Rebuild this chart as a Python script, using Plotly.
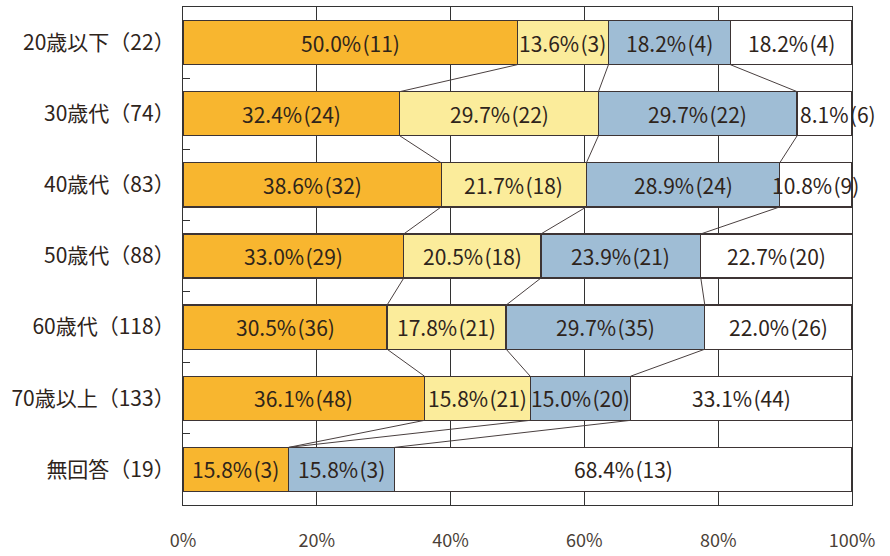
import plotly.graph_objects as go

# Age groups (respondent counts in parentheses)
categories = ["20歳以下（22）", "30歳代（74）", "40歳代（83）", "50歳代（88）",
              "60歳代（118）", "70歳以上（133）", "無回答（19）"]

# Percentages per answer group, one list per stacked segment
pct_a = [50.0, 32.4, 38.6, 33.0, 30.5, 36.1, 15.8]
pct_b = [13.6, 29.7, 21.7, 20.5, 17.8, 15.8, 0.0]
pct_c = [18.2, 29.7, 28.9, 23.9, 29.7, 15.0, 15.8]
pct_d = [18.2, 8.1, 10.8, 22.7, 22.0, 33.1, 68.4]

# Respondent counts matching each percentage
cnt_a = [11, 24, 32, 29, 36, 48, 3]
cnt_b = [3, 22, 18, 18, 21, 21, 0]
cnt_c = [4, 22, 24, 21, 35, 20, 3]
cnt_d = [4, 6, 9, 20, 26, 44, 13]

x_ticks = [0, 20, 40, 60, 80, 100]
x_tick_labels = ["0%", "20%", "40%", "60%", "80%", "100%"]

series = [
    ("A", pct_a, cnt_a, "#F8B62F"),
    ("B", pct_b, cnt_b, "#FBEC9B"),
    ("C", pct_c, cnt_c, "#9FBDD5"),
    ("D", pct_d, cnt_d, "#FFFFFF"),
]

BAR_WIDTH = 0.62
OUTLINE = "#3d3434"
FONT = "Noto Sans CJK JP"
TEXT_COLOR = "#2e241b"

fig = go.Figure()
starts = [0.0] * len(categories)
annotations = []
for name, pct, cnt, color in series:
    fig.add_trace(go.Bar(
        name=name,
        y=categories,
        x=pct,
        orientation="h",
        width=BAR_WIDTH,
        marker=dict(color=color, line=dict(color=OUTLINE, width=1.3)),
        hoverinfo="skip",
    ))
    # Value labels: centred in the segment, left-aligned when the segment is narrow
    for cat, s, p, n in zip(categories, starts, pct, cnt):
        if p <= 0:
            continue
        narrow = p < 10
        annotations.append(dict(
            x=s if narrow else s + p / 2,
            y=cat,
            xref="x", yref="y",
            text=f"{p:.1f}%\u200a({n})",
            showarrow=False,
            xanchor="left" if narrow else "center",
            xshift=1 if narrow else 0,
            yanchor="middle",
            font=dict(family=FONT, size=21, color=TEXT_COLOR),
        ))
    starts = [s + p for s, p in zip(starts, pct)]

# Connector lines between the segment boundaries of adjacent bars
cum = []
running = [0.0] * len(categories)
for pct in (pct_a, pct_b, pct_c):
    running = [r + p for r, p in zip(running, pct)]
    cum.append(list(running))

half = BAR_WIDTH / 2
for bounds in cum:
    for i in range(len(categories) - 1):
        fig.add_shape(
            type="line", xref="x", yref="y",
            x0=bounds[i], y0=i + half,
            x1=bounds[i + 1], y1=i + 1 - half,
            line=dict(color="#4a4040", width=1),
            layer="above",
        )

fig.update_layout(
    barmode="stack",
    width=890, height=556,
    margin=dict(l=183, r=38, t=7, b=51),
    paper_bgcolor="#FFFFFF",
    plot_bgcolor="#FFFFFF",
    showlegend=False,
    annotations=annotations,
)

fig.update_xaxes(
    range=[0, 100],
    tickvals=x_ticks,
    ticktext=x_tick_labels,
    showgrid=True,
    gridcolor="#333333",
    gridwidth=1,
    showline=True,
    linecolor="#333333",
    linewidth=1.2,
    mirror=True,
    zeroline=False,
    ticks="",
    automargin=False,
    ticklabelstandoff=19,
    tickfont=dict(family=FONT, size=18, color="#4a3f38"),
)

fig.update_yaxes(
    type="category",
    autorange="reversed",
    showgrid=False,
    showline=True,
    linecolor="#333333",
    linewidth=1.2,
    mirror=True,
    ticks="inside",
    tickson="boundaries",
    ticklen=7,
    tickcolor="#333333",
    automargin=False,
    ticklabelstandoff=3,
    tickfont=dict(family=FONT, size=21, color=TEXT_COLOR),
)

fig.write_html("out.html")
